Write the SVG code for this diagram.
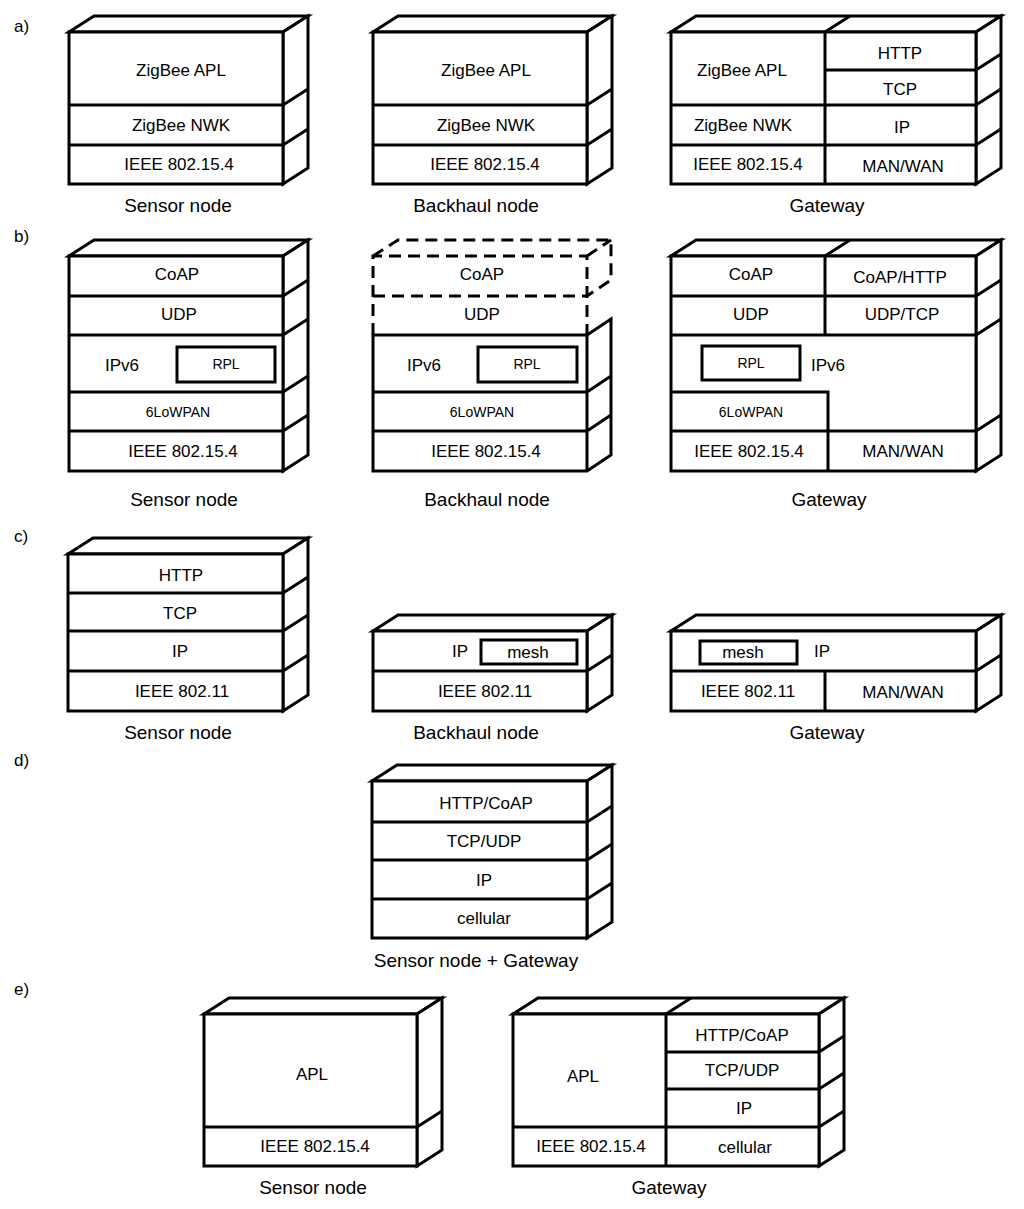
<svg xmlns="http://www.w3.org/2000/svg" width="1024" height="1209" viewBox="0 0 1024 1209">
<style>
.s{fill:#fff;stroke:#000;stroke-width:3;stroke-linejoin:miter}
.l{stroke:#000;stroke-width:3;fill:none}
.d{stroke:#000;stroke-width:3;fill:none;stroke-dasharray:12 7}
text{font-family:"Liberation Sans",Arial,sans-serif;font-size:17px;text-anchor:middle;fill:#000}
.c{font-size:19px}
.sm{font-size:14px}
.p{font-size:17px;text-anchor:start}
</style>
<rect width="1024" height="1209" fill="#fff"/>
<text class="p" x="14" y="32">a)</text>
<text class="p" x="14" y="242">b)</text>
<text class="p" x="14" y="542">c)</text>
<text class="p" x="14" y="766">d)</text>
<text class="p" x="14" y="995">e)</text>

<!-- a) sensor -->
<g id="a-sensor">
<polygon class="s" points="69,32 94,16 308,16 283,32"/>
<polygon class="s" points="283,32 308,16 308,168 283,184"/>
<rect class="s" x="69" y="32" width="214" height="152"/>
<path class="l" d="M69,105H283l25,-16M69,145H283l25,-16"/>
<text x="181" y="76">ZigBee APL</text><text x="181" y="131">ZigBee NWK</text><text x="179" y="170">IEEE 802.15.4</text>
<text class="c" x="178" y="212">Sensor node</text>
</g>
<g id="a-backhaul">
<polygon class="s" points="373,32 398,16 612,16 587,32"/>
<polygon class="s" points="587,32 612,16 612,168 587,184"/>
<rect class="s" x="373" y="32" width="214" height="152"/>
<path class="l" d="M373,105H587l25,-16M373,145H587l25,-16"/>
<text x="486" y="76">ZigBee APL</text><text x="486" y="131">ZigBee NWK</text><text x="485" y="170">IEEE 802.15.4</text>
<text class="c" x="476" y="212">Backhaul node</text>
</g>
<g id="a-gateway">
<polygon class="s" points="671,32 696,16 1001,16 976,32"/>
<polygon class="s" points="976,32 1001,16 1001,168 976,184"/>
<rect class="s" x="671" y="32" width="305" height="152"/>
<path class="l" d="M825,32l25,-16M825,32V184M671,105H976M671,145H976M825,70H976l25,-16M976,105l25,-16M976,145l25,-16"/>
<text x="742" y="76">ZigBee APL</text><text x="743" y="131">ZigBee NWK</text><text x="748" y="170">IEEE 802.15.4</text>
<text x="900" y="59">HTTP</text><text x="900" y="95">TCP</text><text x="902" y="133">IP</text><text x="903" y="172">MAN/WAN</text>
<text class="c" x="827" y="212">Gateway</text>
</g>

<!-- b) -->
<g id="b-sensor">
<polygon class="s" points="69,256 94,240 308,240 283,256"/>
<polygon class="s" points="283,256 308,240 308,455 283,471"/>
<rect class="s" x="69" y="256" width="214" height="215"/>
<path class="l" d="M69,296H283l25,-16M69,335H283l25,-16M69,392H283l25,-16M69,431H283l25,-16"/>
<rect class="s" x="177" y="347" width="98" height="35"/>
<text x="177" y="280">CoAP</text><text x="179" y="320">UDP</text><text x="122" y="371">IPv6</text><text class="sm" x="226" y="369">RPL</text>
<text class="sm" x="178" y="417">6LoWPAN</text><text x="183" y="457">IEEE 802.15.4</text>
<text class="c" x="184" y="506">Sensor node</text>
</g>
<g id="b-backhaul">
<path class="d" d="M373,335V256H587V335M373,296H587M373,256l25,-16H611V280l-24,16M587,256l24,-16"/>
<polygon class="s" points="373,335 587,335 611,319 611,455 587,471 373,471"/>
<path class="l" d="M587,335V471M373,392H587l24,-16M373,431H587l24,-16"/>
<rect class="s" x="478" y="347" width="99" height="35"/>
<text x="482" y="280">CoAP</text><text x="482" y="320">UDP</text><text x="424" y="371">IPv6</text><text class="sm" x="527" y="369">RPL</text>
<text class="sm" x="482" y="417">6LoWPAN</text><text x="486" y="457">IEEE 802.15.4</text>
<text class="c" x="487" y="506">Backhaul node</text>
</g>
<g id="b-gateway">
<polygon class="s" points="671,256 696,240 1001,240 976,256"/>
<polygon class="s" points="976,256 1001,240 1001,455 976,471"/>
<rect class="s" x="671" y="256" width="305" height="215"/>
<path class="l" d="M825,256l25,-16M825,256V335M671,296H976l25,-16M671,335H976l25,-16M671,392H828V471M671,431H976l25,-16"/>
<rect class="s" x="702" y="346" width="98" height="34"/>
<text x="751" y="280">CoAP</text><text x="900" y="283">CoAP/HTTP</text><text x="751" y="320">UDP</text><text x="902" y="320">UDP/TCP</text>
<text class="sm" x="751" y="368">RPL</text><text x="828" y="371" style="text-anchor:middle">IPv6</text>
<text class="sm" x="751" y="417">6LoWPAN</text><text x="749" y="457">IEEE 802.15.4</text><text x="903" y="457">MAN/WAN</text>
<text class="c" x="829" y="506">Gateway</text>
</g>

<!-- c) -->
<g id="c-sensor">
<polygon class="s" points="68,554 93,538 308,538 283,554"/>
<polygon class="s" points="283,554 308,538 308,695 283,711"/>
<rect class="s" x="68" y="554" width="215" height="157"/>
<path class="l" d="M68,593H283l25,-16M68,631H283l25,-16M68,671H283l25,-16"/>
<text x="181" y="581">HTTP</text><text x="180" y="619">TCP</text><text x="180" y="657">IP</text><text x="182" y="697">IEEE 802.11</text>
<text class="c" x="178" y="739">Sensor node</text>
</g>
<g id="c-backhaul">
<polygon class="s" points="373,631 398,615 612,615 587,631"/>
<polygon class="s" points="587,631 612,615 612,695 587,711"/>
<rect class="s" x="373" y="631" width="214" height="80"/>
<path class="l" d="M373,671H587l25,-16"/>
<rect class="s" x="481" y="640" width="96" height="24"/>
<text x="460" y="657">IP</text><text x="528" y="658">mesh</text><text x="485" y="697">IEEE 802.11</text>
<text class="c" x="476" y="739">Backhaul node</text>
</g>
<g id="c-gateway">
<polygon class="s" points="671,631 696,615 1001,615 976,631"/>
<polygon class="s" points="976,631 1001,615 1001,695 976,711"/>
<rect class="s" x="671" y="631" width="305" height="80"/>
<path class="l" d="M671,671H976l25,-16M825,671V711"/>
<rect class="s" x="700" y="641" width="97" height="23"/>
<text x="743" y="658">mesh</text><text x="822" y="657">IP</text><text x="748" y="697">IEEE 802.11</text><text x="903" y="698">MAN/WAN</text>
<text class="c" x="827" y="739">Gateway</text>
</g>

<!-- d) -->
<g id="d-node">
<polygon class="s" points="372,781 397,765 612,765 587,781"/>
<polygon class="s" points="587,781 612,765 612,922 587,938"/>
<rect class="s" x="372" y="781" width="215" height="157"/>
<path class="l" d="M372,822H587l25,-16M372,860H587l25,-16M372,899H587l25,-16"/>
<text x="486" y="809">HTTP/CoAP</text><text x="484" y="847">TCP/UDP</text><text x="484" y="886">IP</text><text x="484" y="924">cellular</text>
<text class="c" x="476" y="967">Sensor node + Gateway</text>
</g>

<!-- e) -->
<g id="e-sensor">
<polygon class="s" points="204,1014 229,998 442,998 417,1014"/>
<polygon class="s" points="417,1014 442,998 442,1150 417,1166"/>
<rect class="s" x="204" y="1014" width="213" height="152"/>
<path class="l" d="M204,1127H417l25,-16"/>
<text x="312" y="1080">APL</text><text x="315" y="1152">IEEE 802.15.4</text>
<text class="c" x="313" y="1194">Sensor node</text>
</g>
<g id="e-gateway">
<polygon class="s" points="513,1014 538,998 844,998 819,1014"/>
<polygon class="s" points="819,1014 844,998 844,1150 819,1166"/>
<rect class="s" x="513" y="1014" width="306" height="152"/>
<path class="l" d="M666,1014l25,-16M666,1014V1166M513,1127H819l25,-16M666,1052H819l25,-16M666,1089H819l25,-16"/>
<text x="583" y="1082">APL</text><text x="591" y="1152">IEEE 802.15.4</text>
<text x="742" y="1041">HTTP/CoAP</text><text x="742" y="1076">TCP/UDP</text><text x="744" y="1114">IP</text><text x="745" y="1153">cellular</text>
<text class="c" x="669" y="1194">Gateway</text>
</g>
</svg>
